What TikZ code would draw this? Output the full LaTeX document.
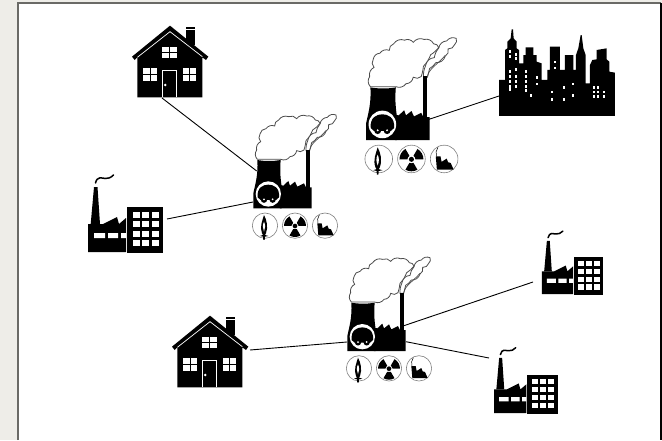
\documentclass[tikz,border=0pt]{standalone}
\definecolor{paper}{HTML}{EEEDE8}
\definecolor{edgeline}{HTML}{6A6A66}
\tikzset{
  conn/.style={draw=black,line width=0.9pt},
  cloudline/.style={line width=0.8pt,draw=black!70,fill=white},
  ring/.style={line width=0.6pt,draw=black!50,fill=white},
  puff/.style={bend left=38,looseness=1},
  plant pic/.pic={
    % plume and cloud
    \draw[cloudline] (198,152) to[bend left=12] (204,120) to[puff] (228,98) to[bend left=15] (240,72) to[puff] (262,52) to[puff] (288,45) to[puff] (284,62) to[puff] (266,74) to[puff] (258,94) to[puff] (232,112) to[bend left=12] (215,128) to (209,152) -- cycle;
    \draw[cloudline] (52,178) to[puff] (50,150) to[puff] (62,125) to[puff] (60,102) to[puff] (78,86) to[puff] (104,78) to[puff] (116,60) to[puff] (146,50) to[puff] (170,56) to[puff] (200,48) to[puff] (226,60) to[puff] (240,70) to[bend left=10] (218,90) to[bend left=10] (198,122) to[bend left=5] (192,150) to[puff] (170,152) to[puff] (150,170) to[puff] (122,178) -- cycle;
    \draw[line width=0.7pt,draw=black!70] (209,150) .. controls (212,130) and (235,118) .. (258,92);
    % chimney and building
    \fill[black] (198,150) rectangle (209,265);
    \fill[black] (120,325) -- (120,255) -- (130,257) -- (145,243) -- (150,257) -- (165,245) -- (172,260) -- (192,250) -- (198,262) -- (215,262) -- (215,325) -- cycle;
    % tower
    \fill[black] (52,180) .. controls (75,184) and (100,184) .. (122,180) .. controls (120,205) and (120,225) .. (125,260) -- (125,325) -- (40,325) -- (40,280) .. controls (45,255) and (55,225) .. (52,180) -- cycle;
    % coal wagon
    \fill[white] (85,282) circle (38);
    \fill[black] (53,292) .. controls (50,262) and (70,254) .. (85,254) .. controls (100,254) and (120,262) .. (117,292) -- (108,300) -- (62,300) -- cycle;
    \fill[black] (72,299) circle (9.5) (98,299) circle (9.5);
    \fill[white] (72,298) circle (3) (98,298) circle (3);
    % fuel icons
    \draw[ring] (75,377) circle (38);
    \draw[ring] (165,377) circle (38);
    \draw[ring] (255,377) circle (38);
    % flame
    \fill[black] (72,345) .. controls (80,360) and (85,380) .. (78,400) -- (75,405) -- (85,408) -- (75,410) -- (74,420) -- (70,420) -- (69,410) -- (60,408) -- (69,405) -- (66,400) .. controls (58,380) and (68,360) .. (72,345) -- cycle;
    \fill[white] (72,365) .. controls (77,375) and (76,385) .. (72,395) .. controls (68,385) and (67,375) .. (72,365) -- cycle;
    % radiation
    \begin{scope}[shift={(165,378)}]
      \fill[black] (0,0) circle (7);
      \foreach \a in {90,210,330} {
        \fill[black] (\a-30:11) -- (\a-30:33) arc[start angle=\a-30,end angle=\a+30,radius=33] -- (\a+30:11) arc[start angle=\a+30,end angle=\a-30,radius=11] -- cycle;
      }
    \end{scope}
    % fossil fuel
    \draw[black,line width=0.5pt] (238,345) .. controls (232,352) and (232,362) .. (234,370);
    \fill[black] (232,370) -- (245,370) -- (248,385) -- (262,376) -- (266,386) -- (273,388) -- (281,406) -- (235,406) -- cycle;
  },
  house pic/.pic={
    \fill[black] (197,22) rectangle (225,75);
    \fill[white] (197,28) rectangle (225,31);
    \fill[black] (36,110) -- (150,17) -- (265,110) -- (258,120) -- (247,112) -- (247,232) -- (52,232) -- (52,112) -- (44,120) -- cycle;
    \draw[white,line width=0.7pt] (52,112) -- (150,35) -- (247,110);
    \fill[white] (127,80) rectangle (170,115);
    \fill[white] (70,145) rectangle (110,182);
    \fill[white] (190,145) rectangle (228,182);
    \draw[black,line width=0.7pt] (148.5,80) -- (148.5,115) (127,97.5) -- (170,97.5) (90,145) -- (90,182) (70,163.5) -- (110,163.5) (209,145) -- (209,182) (190,163.5) -- (228,163.5);
    \draw[white,line width=0.7pt] (128,232) -- (128,151) -- (170,151) -- (170,232);
    \fill[white] (136,195) circle (4);
  },
  factory pic/.pic={
    \fill[black] (5.7,54) -- (9,17) -- (12.5,17) -- (15,54) -- cycle;
    \draw[black,line width=1.5pt,line cap=round] (10.5,13) .. controls (12,6) and (17,8) .. (20,8.5) .. controls (23,9) and (26,7.5) .. (28.5,5);
    \fill[black] (3,82) -- (3,54) -- (18,54) -- (32,47) -- (34,54) -- (41,48) -- (41,82) -- cycle;
    \fill[white] (9,63) rectangle (20,68) (23,63) rectangle (33,68) (36,63) rectangle (41,68);
    \fill[black] (42,37) rectangle (78,83);
    \foreach \x in {47.5,57,66.5} \foreach \y in {41.5,51,60.5,70} { \fill[white] (\x,\y) rectangle +(7.3,6.3); }
  },
  city pic/.pic={
    \fill[black] (27,288) -- (27,180) -- (45,180) -- (45,90) -- (52,85) -- (52,65) -- (62,55) -- (65,28) -- (69,28) -- (71,55) -- (80,65) -- (80,85) -- (87,90) -- (87,130) -- (100,130) -- (100,105) -- (107,105) -- (107,82) -- (130,82) -- (130,105) -- (140,105) -- (140,125) -- (155,130) -- (155,180) -- (172,180) -- (172,150) -- (180,150) -- (180,80) -- (210,80) -- (210,150) -- (225,150) -- (225,105) -- (250,105) -- (250,150) -- (258,150) -- (258,105) -- (265,85) -- (272,45) -- (275,45) -- (280,85) -- (287,105) -- (287,190) -- (300,190) -- (300,135) -- (307,120) -- (320,118) -- (320,90) -- (350,85) -- (350,118) -- (358,125) -- (358,155) -- (375,158) -- (375,288) -- cycle;
    \foreach \x/\y in {58/90,58/105,75/100,75/112,58/150,58/165,58/180,58/195,58/205,75/145,75/165,75/180,75/195,105/150,105/165,105/180,105/195,105/207,138/168,138/188,120/222,193/122,193/140,182/212,182/234,220/198,220/234,245/188,245/222,310/198,310/212,310/226,322/198,322/212,322/226,340/212,340/226} { \fill[white] (\x,\y) rectangle +(6,8); }
  }
}
\begin{document}
\begin{tikzpicture}[x=1pt,y=-1pt]
\useasboundingbox (0,0) rectangle (662,440);
\fill[paper] (0,0) rectangle (662,440);
\fill[white] (18,3) rectangle (661,440);
\draw[edgeline,line width=1.4pt] (18,440) -- (18,3) -- (661,3);
\draw[black,line width=1.2pt] (661,3) -- (661,440);
% connector ends
\coordinate (house1) at (162,98);
\coordinate (plant1a) at (256.7,171);
\coordinate (factory1) at (167,219);
\coordinate (plant1b) at (253,202);
\coordinate (plant2a) at (429,119.3);
\coordinate (city) at (499,96);
\coordinate (house2) at (250,350);
\coordinate (plant3a) at (347,342);
\coordinate (plant3b) at (403,326);
\coordinate (factory2) at (533,282);
\coordinate (plant3c) at (406,341.7);
\coordinate (factory3) at (489,358);
\draw[conn] (house1) -- (plant1a);
\draw[conn] (factory1) -- (plant1b);
\draw[conn] (plant2a) -- (city);
\draw[conn] (house2) -- (plant3a);
\draw[conn] (plant3b) -- (factory2);
\draw[conn] (plant3c) -- (factory3);
\pic[scale=0.3333] at (240,100) {plant pic};
\pic[scale=0.3633] at (351.5,22) {plant pic};
\pic[scale=0.3333] at (334,242.7) {plant pic};
\pic[scale=0.3333] at (120,20) {house pic};
\pic[scale=0.3333] at (160,310) {house pic};
\pic at (85,170) {factory pic};
\pic[scale=0.82] at (539.5,227) {factory pic};
\pic[scale=0.85] at (491.5,343.5) {factory pic};
\pic[scale=0.3333] at (490,20) {city pic};
\end{tikzpicture}
\end{document}
